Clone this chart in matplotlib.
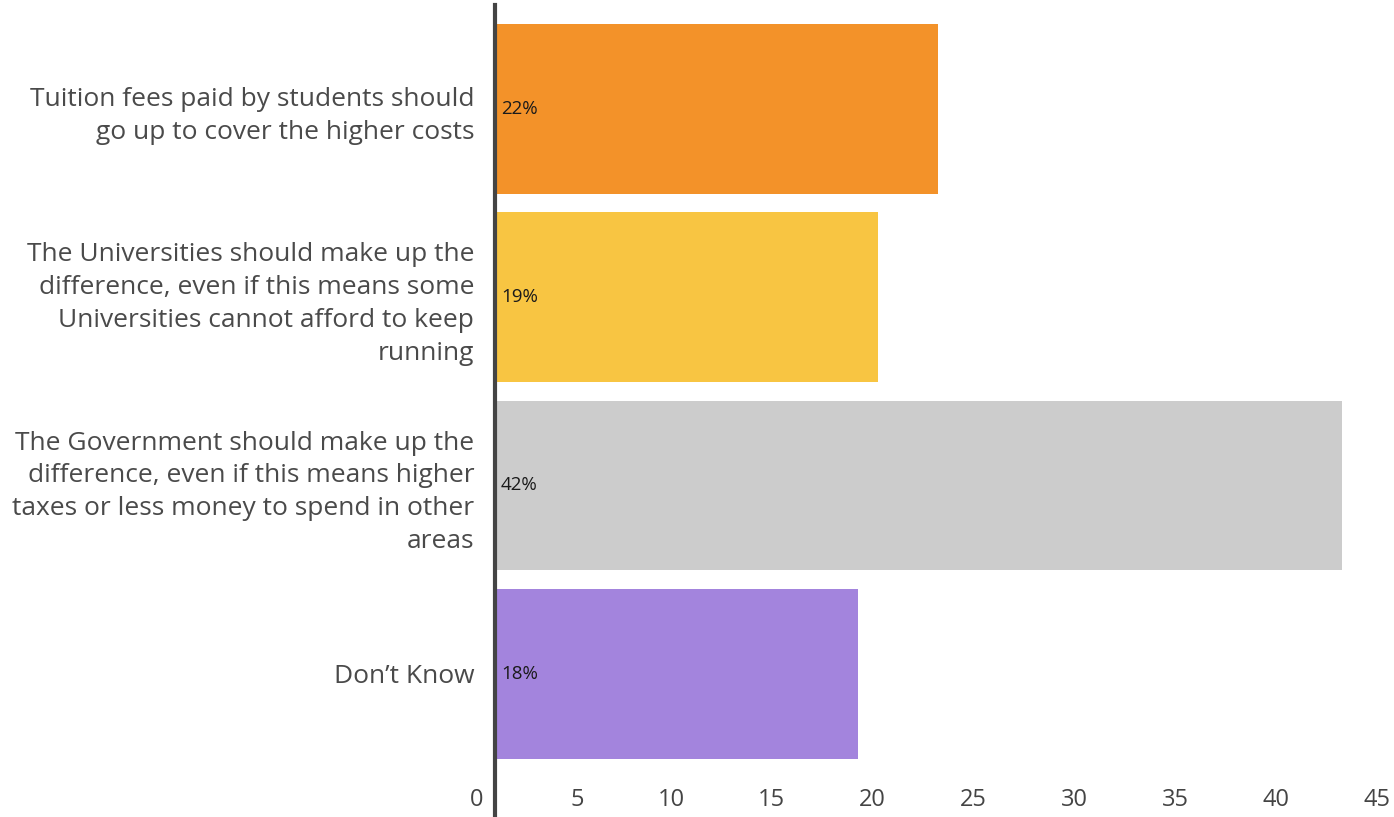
import matplotlib
matplotlib.use("Agg")
import matplotlib.pyplot as plt
import matplotlib.transforms as mtransforms

plt.rcParams['font.family'] = ['Open Sans', 'DejaVu Sans']

categories = [
    "Tuition fees paid by students should\ngo up to cover the higher costs",
    "The Universities should make up the\ndifference, even if this means some\nUniversities cannot afford to keep\nrunning",
    "The Government should make up the\ndifference, even if this means higher\ntaxes or less money to spend in other\nareas",
    "Don\u2019t Know",
]
values = [22, 19, 42, 18]
colors = ["#F39229", "#F8C542", "#CCCCCC", "#A384DD"]
xticks = [0, 5, 10, 15, 20, 25, 30, 35, 40, 45]

W, H = 1394, 817
fig = plt.figure(figsize=(W / 100, H / 100), dpi=100)
ax = fig.add_axes([495 / W, 0, 907 / W, 812 / H])

ypos = list(range(len(values)))
ax.barh(ypos, values, height=0.9, color=colors, zorder=1)
ax.set_xlim(0, 45)
ax.set_ylim(3.76, -0.551)

# value labels sit just inside the left end of each bar
for y, v in zip(ypos, values):
    ax.annotate(f"{v}%", (0, y), xytext=(6, 0), textcoords="offset pixels",
                ha="left", va="center", fontsize=13.5, color="#1a1a1a")

for side in ["top", "right", "bottom"]:
    ax.spines[side].set_visible(False)
ax.spines["left"].set_linewidth(3)
ax.spines["left"].set_color("#444444")
ax.spines["left"].set_zorder(3)

ax.set_yticks(ypos)
ax.set_yticklabels(categories, fontsize=19, color="#4a4a4a", linespacing=1.42)
ax.tick_params(axis="y", length=0, pad=15)

ax.set_xticks(xticks)
ax.set_xticklabels([str(t) for t in xticks], fontsize=17, color="#444444")
ax.tick_params(axis="x", length=0, pad=-21)
shift = mtransforms.ScaledTranslation(-12 / 100, 0, fig.dpi_scale_trans)
for lab in ax.get_xticklabels():
    lab.set_horizontalalignment("right")
    lab.set_transform(lab.get_transform() + shift)

fig.savefig("out.png", dpi=100)
